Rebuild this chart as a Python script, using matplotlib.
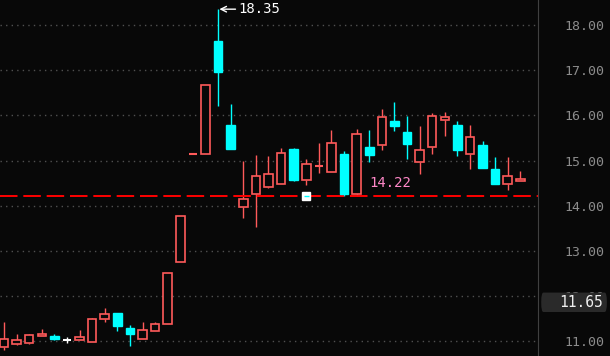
import numpy as np
import matplotlib
matplotlib.use("Agg")
import matplotlib.pyplot as plt
from matplotlib.patches import Rectangle, FancyBboxPatch

# daily candles
opens = [10.88, 10.94, 10.97, 11.13, 11.12, 11.04, 11.04, 10.98, 11.49, 11.63,
         11.30, 11.06, 11.24, 11.38, 12.76, 15.14, 15.15, 17.65, 15.79, 13.98,
         14.27, 14.42, 14.48, 15.26, 14.58, 14.87, 14.75, 15.15, 14.25, 15.30,
         15.34, 15.87, 15.63, 14.98, 15.29, 15.89, 15.79, 15.14, 15.35, 14.81,
         14.48, 14.54]
highs = [11.43, 11.16, 11.16, 11.27, 11.16, 11.10, 11.25, 11.51, 11.74, 11.63,
         11.36, 11.43, 11.43, 12.51, 13.77, 15.14, 16.67, 18.35, 16.25, 14.99,
         15.12, 15.10, 15.28, 15.28, 15.04, 15.39, 15.68, 15.21, 15.70, 15.68,
         16.14, 16.30, 15.99, 15.77, 16.05, 16.08, 15.87, 15.79, 15.43, 15.08,
         15.08, 14.77]
lows = [10.81, 10.91, 10.95, 11.13, 11.02, 10.97, 11.04, 10.98, 11.44, 11.24,
        10.90, 11.06, 11.24, 11.38, 12.76, 15.14, 15.15, 16.21, 15.26, 13.74,
        13.54, 14.40, 14.48, 14.55, 14.47, 14.73, 14.75, 14.22, 14.22, 14.98,
        15.24, 15.66, 15.04, 14.71, 15.14, 15.55, 15.11, 14.82, 14.84, 14.49,
        14.36, 14.54]
closes = [11.05, 11.02, 11.14, 11.16, 11.06, 11.04, 11.09, 11.49, 11.60, 11.35,
          11.17, 11.25, 11.38, 12.51, 13.77, 15.14, 16.67, 16.97, 15.26, 14.15,
          14.67, 14.70, 15.16, 14.57, 14.92, 14.87, 15.40, 14.27, 15.59, 15.13,
          15.96, 15.77, 15.37, 15.23, 15.98, 15.96, 15.24, 15.52, 14.84, 14.49,
          14.67, 14.59]

yticks = [11, 12, 13, 14, 15, 16, 17, 18]
support = 14.22
peak = 18.35
last_label = 11.65
marker_idx = 24

bg = "#080808"
up_col = "#ff5a5a"
down_col = "#00ffff"

fig = plt.figure(figsize=(6.10, 3.56), dpi=100, facecolor=bg)
ax = fig.add_axes([0, 0, 538 / 610, 1])
ax.set_facecolor(bg)

w = 0.68
for i, (o, h, l, c) in enumerate(zip(opens, highs, lows, closes)):
    top, bot = max(o, c), min(o, c)
    if c > o:
        col = up_col
        ax.vlines(i, top, h, color=col, lw=1.0)
        ax.vlines(i, l, bot, color=col, lw=1.0)
        ax.add_patch(Rectangle((i - w / 2, bot), w, top - bot, facecolor=bg,
                               edgecolor=col, lw=1.2, zorder=3))
    elif c < o:
        col = down_col
        ax.vlines(i, l, h, color=col, lw=1.0)
        ax.add_patch(Rectangle((i - w / 2, bot), w, top - bot, facecolor=col,
                               edgecolor=col, lw=1.0, zorder=3))
    else:
        col = "white" if i == 5 else up_col
        ax.vlines(i, l, h, color=col, lw=1.0)
        ax.hlines(c, i - w / 2, i + w / 2, color=col, lw=1.5, zorder=3)

# support line
ax.axhline(support, color="#ff0000", lw=1.4, dashes=(9, 3), zorder=2)
ax.text(29.0, support + 0.12, f"{support:.2f}", color="#ff88c8",
        fontsize=10, family="DejaVu Sans Mono", va="bottom", ha="left")
ax.add_patch(Rectangle((marker_idx - 0.3, support - 0.09), 0.6, 0.18,
                       facecolor="white", edgecolor="white", zorder=4))
ax.hlines(support, marker_idx - 0.22, marker_idx + 0.22, color=down_col,
          lw=1.0, zorder=5)

# peak annotation
ax.annotate(f"{peak:.2f}", xy=(17.1, peak), xytext=(18.6, peak),
            color="white", fontsize=10, family="DejaVu Sans Mono",
            va="center", ha="left",
            arrowprops=dict(arrowstyle="->", color="white", lw=1.0,
                            shrinkA=0, shrinkB=0))

ax.set_xlim(-0.32, 42.4)
ax.set_ylim(10.677, 18.553)
for y in yticks:
    ax.axhline(y, color="#505050", lw=1.0, ls=(0, (1, 3)), zorder=0)

ax.yaxis.tick_right()
ax.set_yticks(yticks)
ax.set_yticklabels([f"{y:.2f}" for y in yticks], color="#8c8c8c",
                   family="DejaVu Sans Mono", fontsize=9.5)
ax.tick_params(axis="y", length=0, pad=19)
ax.set_xticks([])
for s in ["top", "bottom", "left"]:
    ax.spines[s].set_visible(False)
ax.spines["right"].set_color("#404040")

# last price box on the axis
ytr = ax.get_yaxis_transform()
box = FancyBboxPatch((1.006, last_label), 0.122, 0.43,
                     boxstyle="round,pad=0,rounding_size=0.004",
                     transform=ytr, facecolor="#2a2a2a", edgecolor="none",
                     clip_on=False, zorder=6, mutation_aspect=50)
ax.add_patch(box)
ax.text(1.1215, last_label + 0.215, f"{last_label:.2f}", transform=ytr,
        color="#f0f0f0", fontsize=10.5, family="DejaVu Sans Mono",
        ha="right", va="center", zorder=7, clip_on=False)

fig.savefig("out.png", facecolor=bg)
